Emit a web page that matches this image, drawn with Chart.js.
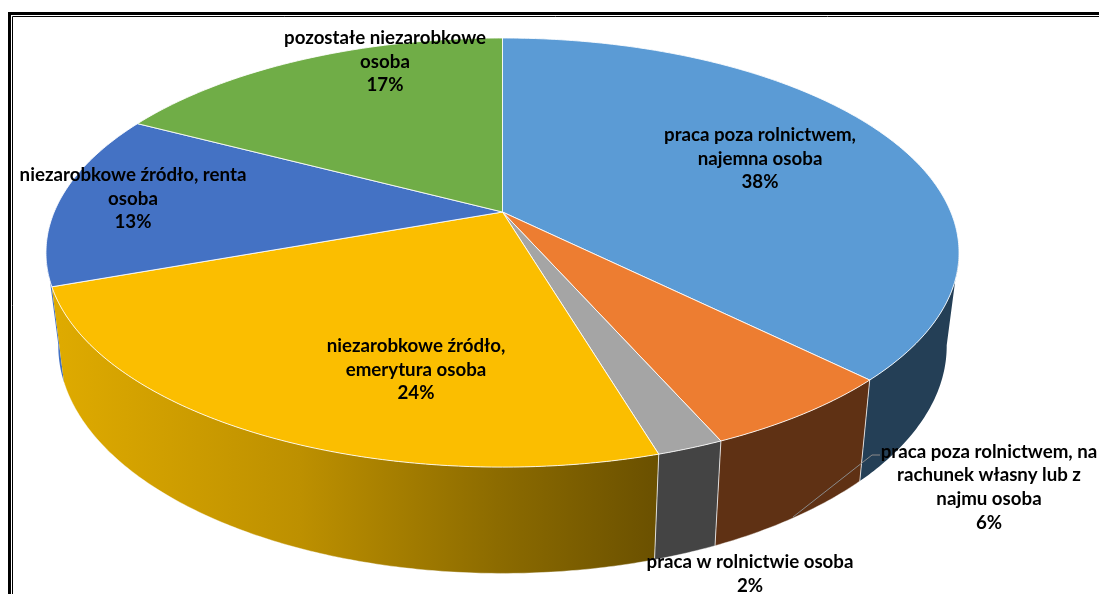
<!DOCTYPE html>
<html>
<head>
<meta charset="utf-8">
<style>
  html, body { margin: 0; padding: 0; background: #fff; overflow: hidden; }
  canvas { display: block; }
</style>
<script src="https://cdn.jsdelivr.net/npm/chart.js@4/dist/chart.umd.min.js"></script>
</head>
<body>
<canvas id="pie" width="1099" height="594"></canvas>
<script>
const categories = [
  ['praca poza rolnictwem,', 'najemna osoba'],
  ['praca poza rolnictwem, na', 'rachunek własny lub z', 'najmu osoba'],
  ['praca w rolnictwie osoba'],
  ['niezarobkowe źródło,', 'emerytura osoba'],
  ['niezarobkowe źródło, renta', 'osoba'],
  ['pozostałe niezarobkowe', 'osoba']
];
const shares = [38, 6, 2, 24, 13, 17];
const topColors = ['#5B9BD5', '#ED7D31', '#A5A5A5', '#FBBE00', '#4472C4', '#70AD47'];
const wallColors = ['#243F56', '#5F3114', '#444444', null, '#4472C4', '#43682B'];

// centre of the first line of each label
const labelAnchors = [[760, 135], [989, 451.5], [750, 562], [416, 346], [133, 175], [385, 38]];
const LINE_HEIGHT = 23.7;

// perspective of the tilted disc: top face and the smaller, lower bottom face
const PERSP = 0.189;
const SKEW = 2.2 * Math.PI / 180;
const RIM_WIDEST_Y = 252;
const topFace = { x: 502.5, y: 212, a: 448.3, b: 206.9 };
const bottomFace = { x: 502.5, y: 303, a: 436.2, b: 219.3 };

function project(face, angle) {
  // slight camera skew, zero at the 12 o'clock edge of the disc
  const a = angle - SKEW * Math.sin((angle + Math.PI / 2) / 2);
  const u = Math.cos(a), v = -Math.sin(a);
  const d = 1 + PERSP * v;
  return [face.x + face.a * u / d, face.y - face.b * v / d];
}

function rimPoints(face, start, end) {
  const steps = Math.max(2, Math.ceil((end - start) / 0.01));
  const pts = [];
  for (let i = 0; i <= steps; i++) {
    pts.push(project(face, start + (end - start) * i / steps));
  }
  return pts;
}

function addPolygon(ctx, pts) {
  pts.forEach((p, i) => (i ? ctx.lineTo(p[0], p[1]) : ctx.moveTo(p[0], p[1])));
  ctx.closePath();
}

function yellowWall(ctx) {
  const g = ctx.createLinearGradient(60, 0, 660, 0);
  g.addColorStop(0, '#DEAA00');
  g.addColorStop(0.4, '#BD9000');
  g.addColorStop(0.73, '#8C6B00');
  g.addColorStop(1, '#6A5000');
  return g;
}

function ruling(ctx, angle) {
  const p = project(topFace, angle), q = project(bottomFace, angle);
  ctx.beginPath();
  ctx.moveTo(p[0], p[1]);
  ctx.lineTo(q[0], q[1]);
  ctx.stroke();
}

// Draws the extruded disc from the angles the pie controller worked out
const disc3d = {
  id: 'disc3d',
  beforeDatasetDraw(chart, args) {
    const ctx = chart.ctx;
    const arcs = chart.getDatasetMeta(args.index).data;
    const mid = a => -Math.sin((a.startAngle + a.endAngle) / 2);

    ctx.save();
    ctx.lineJoin = 'round';

    // side walls, back to front; one path of strips per slice keeps the silhouette
    // closed, and strips behind the widest point of the rim are left out
    arcs.map((arc, i) => ({ arc, i }))
      .sort((p, q) => mid(q.arc) - mid(p.arc))
      .forEach(({ arc, i }) => {
        const upper = rimPoints(topFace, arc.startAngle, arc.endAngle);
        const lower = rimPoints(bottomFace, arc.startAngle, arc.endAngle);
        ctx.beginPath();
        for (let k = 0; k < upper.length - 1; k++) {
          if (upper[k][1] < RIM_WIDEST_Y && upper[k + 1][1] < RIM_WIDEST_Y) continue;
          addPolygon(ctx, [upper[k], upper[k + 1], lower[k + 1], lower[k]]);
        }
        ctx.fillStyle = wallColors[i] || yellowWall(ctx);
        ctx.fill();
      });

    // dividers between the visible walls and the pale lower edge of the front
    ctx.strokeStyle = 'rgba(255,255,255,0.75)';
    ctx.lineWidth = 1;
    [1, 2, 3].forEach(i => ruling(ctx, arcs[i].startAngle));
    ctx.strokeStyle = 'rgba(255,255,255,0.4)';
    ctx.beginPath();
    rimPoints(bottomFace, arcs[1].startAngle, arcs[3].endAngle).forEach((p, k) => {
      if (k) ctx.lineTo(p[0], p[1]); else ctx.moveTo(p[0], p[1]);
    });
    ctx.stroke();

    // top face
    arcs.forEach((arc, i) => {
      const pts = [[topFace.x, topFace.y]].concat(rimPoints(topFace, arc.startAngle, arc.endAngle));
      ctx.beginPath();
      addPolygon(ctx, pts);
      ctx.fillStyle = topColors[i];
      ctx.fill();
      ctx.strokeStyle = 'rgba(255,255,255,0.85)';
      ctx.lineWidth = 1;
      ctx.stroke();
    });

    ctx.restore();
    return false;
  }
};

// Outer frame, leader line and the slice labels
const annotations = {
  id: 'annotations',
  afterDraw(chart) {
    const ctx = chart.ctx;
    ctx.save();

    ctx.strokeStyle = '#000';
    ctx.lineWidth = 3;
    ctx.beginPath();
    ctx.moveTo(9.5, 594);
    ctx.lineTo(9.5, 13.5);
    ctx.lineTo(1099, 13.5);
    ctx.stroke();
    ctx.lineWidth = 1;
    ctx.beginPath();
    ctx.moveTo(12.5, 594);
    ctx.lineTo(12.5, 16.5);
    ctx.lineTo(1099, 16.5);
    ctx.stroke();

    ctx.strokeStyle = '#8A8A8A';
    ctx.lineWidth = 1;
    ctx.beginPath();
    ctx.moveTo(880, 455);
    ctx.lineTo(872, 455);
    ctx.lineTo(793, 517);
    ctx.stroke();

    ctx.font = 'bold 18.7px Lato';
    ctx.fillStyle = '#000';
    ctx.textAlign = 'center';
    ctx.textBaseline = 'middle';
    categories.forEach((lines, i) => {
      const [x, y] = labelAnchors[i];
      lines.concat(shares[i] + '%').forEach((line, n) => {
        ctx.fillText(line, x, y + n * LINE_HEIGHT);
      });
    });

    ctx.restore();
  }
};

new Chart(document.getElementById('pie').getContext('2d'), {
  type: 'pie',
  data: {
    labels: categories,
    datasets: [{ data: shares, backgroundColor: topColors }]
  },
  options: {
    responsive: false,
    animation: false,
    plugins: { legend: { display: false }, tooltip: { enabled: false } }
  },
  plugins: [disc3d, annotations]
});
</script>
</body>
</html>
